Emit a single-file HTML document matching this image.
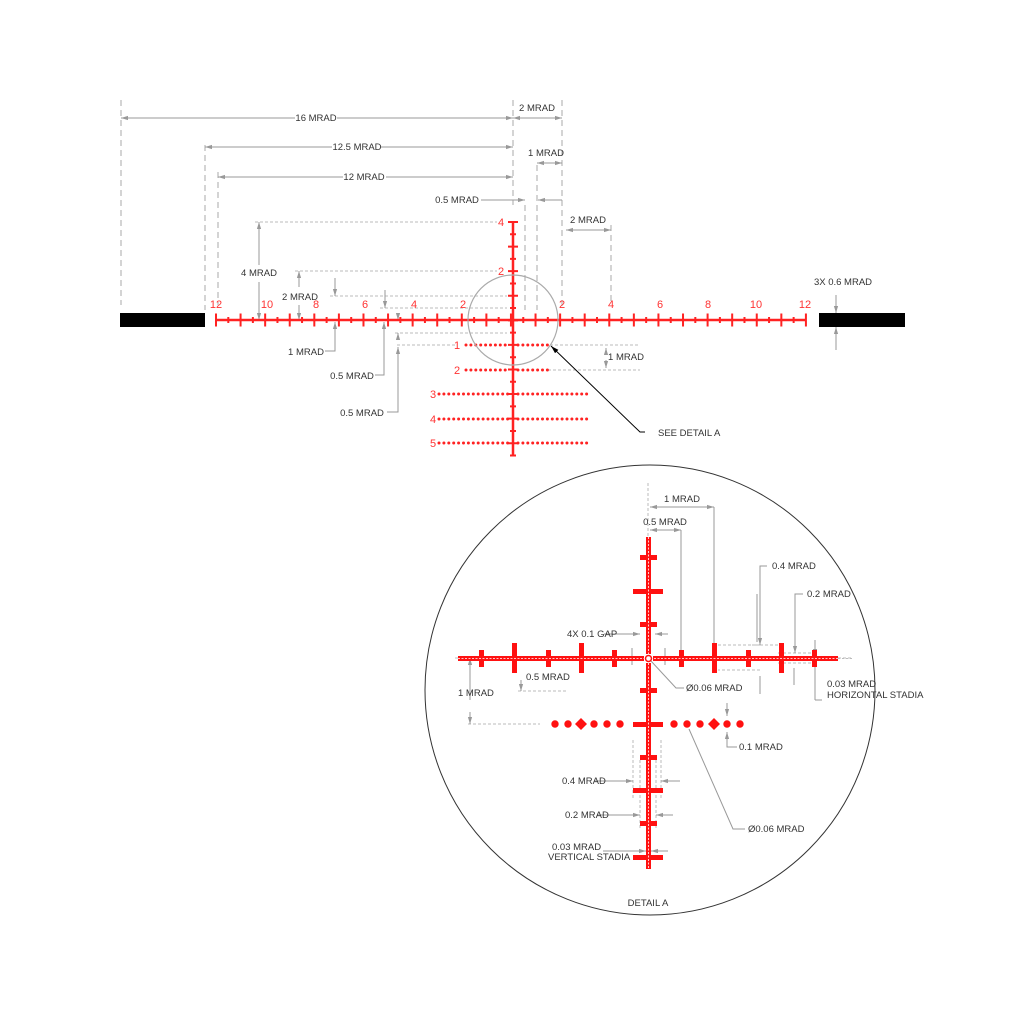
<!DOCTYPE html>
<html><head><meta charset="utf-8"><style>
html,body{margin:0;padding:0;background:#fff;}
svg{display:block;}
text{font-family:"Liberation Sans Narrow","Liberation Sans",sans-serif;}
.g{font-size:9.5px;fill:#333;}
.r{font-size:11px;fill:#f33;font-family:"Liberation Sans",sans-serif;}
.dl{stroke:#aaa;stroke-width:1;stroke-dasharray:6 4;fill:none;}
.dd{stroke:#bbb;stroke-width:1;stroke-dasharray:3 2;fill:none;}
.al{stroke:#999;stroke-width:1;fill:none;}
</style></head><body>
<svg width="1024" height="1024" viewBox="0 0 1024 1024" xmlns="http://www.w3.org/2000/svg">
<defs>
<marker id="a" viewBox="0 0 10 10" refX="10" refY="5" markerWidth="7" markerHeight="7" orient="auto-start-reverse"><path d="M0,2 L10,5 L0,8 z" fill="#999"/></marker>
<marker id="k" viewBox="0 0 10 10" refX="10" refY="5" markerWidth="8" markerHeight="8" orient="auto"><path d="M0,2 L10,5 L0,8 z" fill="#000"/></marker>
</defs>

<path class="dl" d="M121,100V305 M205,145V310 M218,172V305 M513,100V205 M525,205V310 M537,165V310 M562,100V310 M611,225V302"/>
<line class="al" x1="121" y1="118" x2="295" y2="118" marker-start="url(#a)"/>
<line class="al" x1="337" y1="118" x2="513" y2="118" marker-end="url(#a)"/>
<text class="g" x="316" y="121" text-anchor="middle">16 MRAD</text>
<line class="al" x1="513" y1="118" x2="562" y2="118" marker-start="url(#a)" marker-end="url(#a)"/>
<text class="g" x="537" y="111" text-anchor="middle">2 MRAD</text>
<line class="al" x1="205" y1="147" x2="332" y2="147" marker-start="url(#a)"/>
<line class="al" x1="381" y1="147" x2="513" y2="147" marker-end="url(#a)"/>
<text class="g" x="357" y="150" text-anchor="middle">12.5 MRAD</text>
<line class="al" x1="218" y1="177" x2="343" y2="177" marker-start="url(#a)"/>
<line class="al" x1="386" y1="177" x2="513" y2="177" marker-end="url(#a)"/>
<text class="g" x="364" y="180" text-anchor="middle">12 MRAD</text>
<line class="al" x1="537" y1="163" x2="562" y2="163" marker-start="url(#a)" marker-end="url(#a)"/>
<text class="g" x="546" y="156" text-anchor="middle">1 MRAD</text>
<text class="g" x="457" y="203" text-anchor="middle">0.5 MRAD</text>
<line class="al" x1="481" y1="200" x2="525" y2="200" marker-end="url(#a)"/>
<line class="al" x1="562" y1="200" x2="538" y2="200" marker-end="url(#a)"/>
<line class="al" x1="566" y1="230" x2="611" y2="230" marker-start="url(#a)" marker-end="url(#a)"/>
<text class="g" x="588" y="223" text-anchor="middle">2 MRAD</text>

<path class="dd" d="M255,222H497 M295,271H497 M330,296H507 M380,308H507 M395,333H507 M397,345H455 M550,345H640 M548,370H640"/>
<line class="al" x1="259" y1="265" x2="259" y2="222" marker-end="url(#a)"/>
<line class="al" x1="259" y1="282" x2="259" y2="320" marker-end="url(#a)"/>
<text class="g" x="259" y="276" text-anchor="middle">4 MRAD</text>
<line class="al" x1="299" y1="287" x2="299" y2="271" marker-end="url(#a)"/>
<line class="al" x1="299" y1="305" x2="299" y2="320" marker-end="url(#a)"/>
<text class="g" x="300" y="300" text-anchor="middle">2 MRAD</text>
<line class="al" x1="335" y1="278" x2="335" y2="296" marker-end="url(#a)"/>
<line class="al" x1="385" y1="290" x2="385" y2="308" marker-end="url(#a)"/>
<line class="al" x1="398" y1="314" x2="398" y2="320" marker-end="url(#a)"/>
<line class="al" x1="398" y1="340" x2="398" y2="333" marker-end="url(#a)"/>
<path class="al" d="M325,351H335V322"/><line class="al" x1="335" y1="335" x2="335" y2="322" marker-end="url(#a)"/>
<text class="g" x="306" y="355" text-anchor="middle">1 MRAD</text>
<path class="al" d="M375,375H384V322"/><line class="al" x1="384" y1="335" x2="384" y2="322" marker-end="url(#a)"/>
<text class="g" x="352" y="379" text-anchor="middle">0.5 MRAD</text>
<path class="al" d="M387,412H398V347"/><line class="al" x1="398" y1="360" x2="398" y2="347" marker-end="url(#a)"/>
<text class="g" x="362" y="416" text-anchor="middle">0.5 MRAD</text>
<line class="al" x1="606" y1="348" x2="606" y2="355" marker-start="url(#a)"/>
<line class="al" x1="606" y1="360" x2="606" y2="368" marker-end="url(#a)"/>
<text class="g" x="626" y="360" text-anchor="middle">1 MRAD</text>
<text class="g" x="843" y="285" text-anchor="middle">3X 0.6 MRAD</text>
<line class="al" x1="836" y1="295" x2="836" y2="313" marker-end="url(#a)"/>
<line class="al" x1="836" y1="350" x2="836" y2="327" marker-end="url(#a)"/>

<rect x="120" y="313" width="85" height="14" fill="#000"/>
<rect x="819" y="313" width="86" height="14" fill="#000"/>

<g stroke="#f22">
<line x1="216" y1="320" x2="806" y2="320" stroke-width="2.5"/>
<line x1="215" y1="320" x2="808" y2="320" stroke-width="13" stroke-dasharray="2 22.58"/>
<line x1="227.3" y1="320" x2="800" y2="320" stroke-width="6" stroke-dasharray="2 22.58"/>
<line x1="513" y1="222" x2="513" y2="456" stroke-width="2.5"/>
<line x1="513" y1="221" x2="513" y2="460" stroke-width="10" stroke-dasharray="2 22.58"/>
<line x1="513" y1="233.3" x2="513" y2="460" stroke-width="6" stroke-dasharray="2 22.58"/>
</g>
<g stroke="#f22" stroke-width="3" stroke-linecap="round" stroke-dasharray="0 4.9">
<line x1="466" y1="345" x2="508" y2="345"/><line x1="518" y1="345" x2="549" y2="345"/>
<line x1="466" y1="370" x2="508" y2="370"/><line x1="518" y1="370" x2="549" y2="370"/>
<line x1="439" y1="394" x2="508" y2="394"/><line x1="518" y1="394" x2="587" y2="394"/>
<line x1="439" y1="419" x2="508" y2="419"/><line x1="518" y1="419" x2="587" y2="419"/>
<line x1="439" y1="443" x2="508" y2="443"/><line x1="518" y1="443" x2="587" y2="443"/>
</g>
<g class="r">
<text x="216" y="308" text-anchor="middle">12</text><text x="267" y="308" text-anchor="middle">10</text>
<text x="316" y="308" text-anchor="middle">8</text><text x="365" y="308" text-anchor="middle">6</text>
<text x="414" y="308" text-anchor="middle">4</text><text x="463" y="308" text-anchor="middle">2</text>
<text x="562" y="308" text-anchor="middle">2</text><text x="611" y="308" text-anchor="middle">4</text>
<text x="660" y="308" text-anchor="middle">6</text><text x="708" y="308" text-anchor="middle">8</text>
<text x="756" y="308" text-anchor="middle">10</text><text x="805" y="308" text-anchor="middle">12</text>
<text x="501" y="226" text-anchor="middle">4</text><text x="501" y="275" text-anchor="middle">2</text>
<text x="457" y="349" text-anchor="middle">1</text><text x="457" y="374" text-anchor="middle">2</text>
<text x="433" y="398" text-anchor="middle">3</text><text x="433" y="423" text-anchor="middle">4</text>
<text x="433" y="447" text-anchor="middle">5</text>
</g>
<circle cx="513" cy="320" r="45" fill="none" stroke="#aaa" stroke-width="1.2"/>
<path d="M645,432H640L551,346" fill="none" stroke="#000" stroke-width="1" marker-end="url(#k)"/>
<text class="g" x="658" y="436">SEE DETAIL A</text>

<circle cx="650" cy="690" r="225" fill="none" stroke="#333" stroke-width="1"/>
<text class="g" x="648" y="906" text-anchor="middle">DETAIL A</text>
<path class="dd" d="M648,483V540 M838,658H852 M455,658H458 M518,691H568 M468,724H540 M778,645H752 M811,653H778 M778,663H811 M760,670H718 M718,645H760 M633,740V800 M661,740V800 M640,760V830 M656,760V830"/>
<path class="al" d="M714,507V645 M681,530V650 M632,648V665 M665,648V665 M757,594V642 M795,600V650 M815,640V690 M760,676V694 M794,668V685"/>
<line class="al" x1="650" y1="507" x2="714" y2="507" marker-start="url(#a)" marker-end="url(#a)"/>
<text class="g" x="682" y="502" text-anchor="middle">1 MRAD</text>
<line class="al" x1="650" y1="530" x2="681" y2="530" marker-start="url(#a)" marker-end="url(#a)"/>
<text class="g" x="665" y="525" text-anchor="middle">0.5 MRAD</text>
<path class="al" d="M767,566H760V645"/><line class="al" x1="760" y1="630" x2="760" y2="645" marker-end="url(#a)"/>
<text class="g" x="772" y="569">0.4 MRAD</text>
<path class="al" d="M803,594H795V653"/><line class="al" x1="795" y1="640" x2="795" y2="653" marker-end="url(#a)"/>
<text class="g" x="807" y="597">0.2 MRAD</text>
<path class="al" d="M604,634H633 M668,634H660"/><line class="al" x1="612" y1="634" x2="640" y2="634" marker-end="url(#a)"/><line class="al" x1="668" y1="634" x2="655" y2="634" marker-end="url(#a)"/>
<text class="g" x="567" y="637">4X 0.1 GAP</text>
<line class="al" x1="521" y1="680" x2="521" y2="691" marker-end="url(#a)"/>
<text class="g" x="526" y="680">0.5 MRAD</text>
<line class="al" x1="470" y1="700" x2="470" y2="658" marker-end="url(#a)"/>
<line class="al" x1="470" y1="712" x2="470" y2="724" marker-end="url(#a)"/>
<text class="g" x="458" y="696">1 MRAD</text>
<path class="al" d="M651,661L676,688H684"/>
<text class="g" x="686" y="691">Ø0.06 MRAD</text>
<path class="al" d="M815,700H822 M815,660V700"/><line class="al" x1="815" y1="646" x2="815" y2="656" marker-end="url(#a)"/>
<text class="g" x="827" y="687">0.03 MRAD</text><text class="g" x="827" y="698">HORIZONTAL STADIA</text>
<line class="al" x1="727" y1="703" x2="727" y2="716" marker-end="url(#a)"/>
<path class="al" d="M727,734V747H737"/><line class="al" x1="727" y1="745" x2="727" y2="732" marker-end="url(#a)"/>
<text class="g" x="739" y="750">0.1 MRAD</text>
<path class="al" d="M689,729L733,829H745"/>
<text class="g" x="748" y="832">Ø0.06 MRAD</text>
<line class="al" x1="595" y1="781" x2="633" y2="781" marker-end="url(#a)"/><line class="al" x1="680" y1="781" x2="661" y2="781" marker-end="url(#a)"/>
<text class="g" x="562" y="784">0.4 MRAD</text>
<line class="al" x1="597" y1="815" x2="640" y2="815" marker-end="url(#a)"/><line class="al" x1="673" y1="815" x2="656" y2="815" marker-end="url(#a)"/>
<text class="g" x="565" y="818">0.2 MRAD</text>
<line class="al" x1="603" y1="851" x2="646" y2="851" marker-end="url(#a)"/><line class="al" x1="668" y1="851" x2="651" y2="851" marker-end="url(#a)"/>
<text class="g" x="552" y="850">0.03 MRAD</text><text class="g" x="548" y="860">VERTICAL STADIA</text>

<g fill="#f11">
<rect x="458" y="656" width="186" height="5"/><rect x="653" y="656" width="185" height="5"/>
<rect x="646" y="537" width="5" height="117"/><rect x="646" y="663" width="5" height="206"/>
<rect x="479" y="650" width="5" height="17"/><rect x="512" y="643" width="5" height="30"/>
<rect x="546" y="650" width="5" height="17"/><rect x="579" y="643" width="5" height="30"/>
<rect x="612" y="650" width="5" height="17"/>
<rect x="679" y="650" width="5" height="17"/><rect x="712" y="643" width="5" height="30"/>
<rect x="746" y="650" width="5" height="17"/><rect x="779" y="643" width="5" height="30"/>
<rect x="812" y="650" width="5" height="17"/>
<rect x="640" y="555" width="17" height="5"/><rect x="633" y="589" width="30" height="5"/>
<rect x="640" y="622" width="17" height="5"/>
<rect x="640" y="688" width="17" height="5"/><rect x="633" y="722" width="30" height="5"/>
<rect x="640" y="755" width="17" height="5"/><rect x="633" y="788" width="30" height="5"/>
<rect x="640" y="821" width="17" height="5"/><rect x="633" y="855" width="30" height="5"/>
<circle cx="555" cy="724" r="3.7"/><circle cx="568" cy="724" r="3.7"/><path d="M581,718L587,724L581,730L575,724Z"/>
<circle cx="594" cy="724" r="3.7"/><circle cx="607" cy="724" r="3.7"/><circle cx="620" cy="724" r="3.7"/>
<circle cx="674" cy="724" r="3.7"/><circle cx="687" cy="724" r="3.7"/><circle cx="700" cy="724" r="3.7"/>
<path d="M714,718L720,724L714,730L708,724Z"/><circle cx="727" cy="724" r="3.7"/><circle cx="740" cy="724" r="3.7"/>
</g>
<g stroke="#fff" stroke-width="0.8" stroke-dasharray="2 1.5" fill="none">
<line x1="458" y1="658.5" x2="838" y2="658.5"/><line x1="648.5" y1="537" x2="648.5" y2="869"/>
</g>
<circle cx="648.5" cy="658.5" r="3" fill="none" stroke="#f11" stroke-width="1.5"/>
<line x1="838" y1="658.5" x2="852" y2="658.5" stroke="#bbb" stroke-dasharray="2 2"/>
</svg>
</body></html>
